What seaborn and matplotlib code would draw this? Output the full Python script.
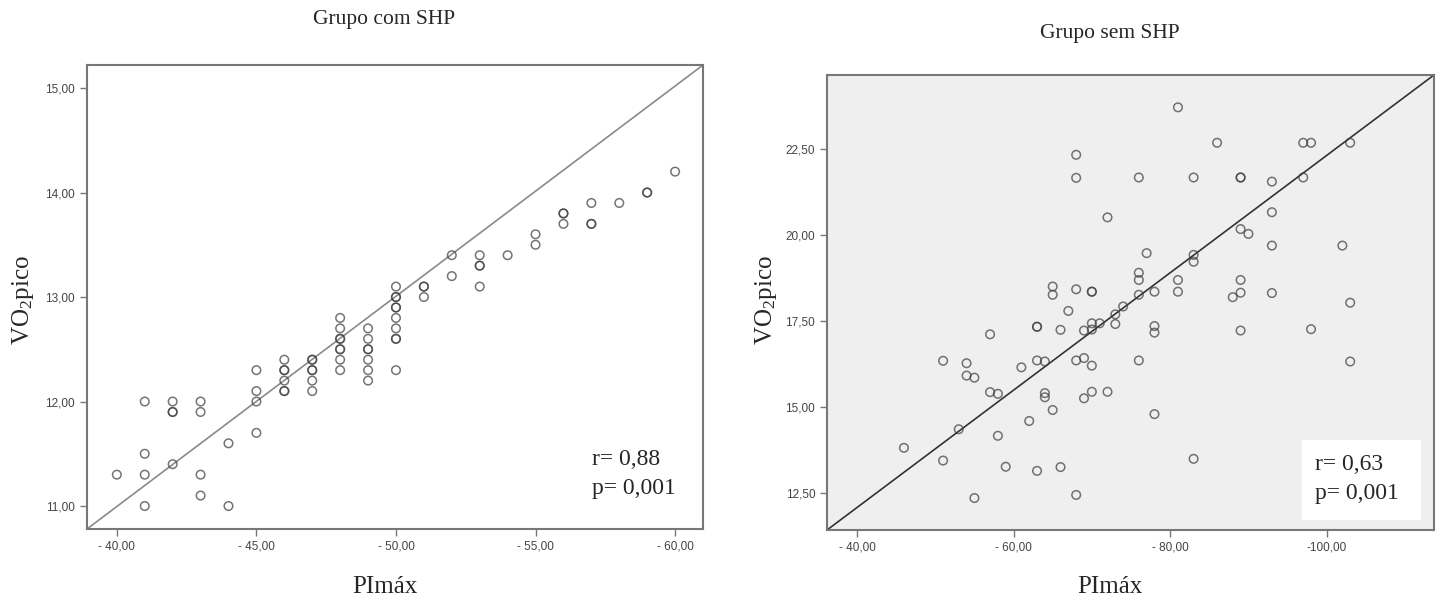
import matplotlib
matplotlib.use("Agg")
import matplotlib.pyplot as plt
import seaborn as sns
import pandas as pd
from matplotlib.patches import Rectangle

# Grupo com SHP
com_pimax = [-40,
             -41, -41, -41, -41,
             -42, -42, -42, -42,
             -43, -43, -43, -43,
             -44, -44,
             -45, -45, -45, -45,
             -46, -46, -46, -46, -46, -46,
             -47, -47, -47, -47, -47, -47,
             -48, -48, -48, -48, -48, -48, -48, -48,
             -49, -49, -49, -49, -49, -49, -49,
             -50, -50, -50, -50, -50, -50, -50, -50, -50, -50,
             -51, -51, -51,
             -52, -52,
             -53, -53, -53, -53,
             -54,
             -55, -55,
             -56, -56, -56,
             -57, -57, -57,
             -58,
             -59, -59,
             -60]
com_vo2 = [11.3,
           12.0, 11.5, 11.3, 11.0,
           12.0, 11.9, 11.9, 11.4,
           12.0, 11.9, 11.3, 11.1,
           11.6, 11.0,
           12.3, 12.1, 12.0, 11.7,
           12.4, 12.3, 12.3, 12.2, 12.1, 12.1,
           12.4, 12.4, 12.3, 12.3, 12.2, 12.1,
           12.8, 12.7, 12.6, 12.6, 12.5, 12.5, 12.4, 12.3,
           12.7, 12.6, 12.5, 12.5, 12.4, 12.3, 12.2,
           13.1, 13.0, 13.0, 12.9, 12.9, 12.8, 12.7, 12.6, 12.6, 12.3,
           13.1, 13.1, 13.0,
           13.4, 13.2,
           13.4, 13.3, 13.3, 13.1,
           13.4,
           13.6, 13.5,
           13.8, 13.8, 13.7,
           13.9, 13.7, 13.7,
           13.9,
           14.0, 14.0,
           14.2]

# Grupo sem SHP
sem_pimax = [-68, -68, -72, -65, -65, -68, -70, -70, -67, -63, -63, -66, -57,
             -69, -70, -70, -71, -73, -73, -74, -51, -54, -54, -55, -61, -63,
             -64, -68, -69, -70, -57, -58, -64, -64, -65, -69, -70, -72, -53,
             -62, -58, -46, -51, -59, -63, -66, -55, -68,
             -81, -86, -97, -98, -103, -76, -83, -89, -89, -93, -97, -93,
             -89, -90, -93, -102, -77, -83, -83, -76, -76, -81, -81, -76,
             -78, -89, -89, -88, -93, -103, -78, -78, -89, -98, -76, -103,
             -78, -83]
sem_vo2 = [22.33, 21.66, 20.51, 18.50, 18.26, 18.42, 18.35, 18.35, 17.79,
           17.33, 17.33, 17.24, 17.11, 17.22, 17.43, 17.25, 17.43, 17.69,
           17.41, 17.92, 16.34, 16.27, 15.91, 15.85, 16.15, 16.35, 16.32,
           16.35, 16.42, 16.20, 15.43, 15.38, 15.40, 15.28, 14.91, 15.25,
           15.44, 15.44, 14.35, 14.59, 14.16, 13.81, 13.44, 13.26, 13.14,
           13.25, 12.35, 12.44,
           23.71, 22.68, 22.68, 22.68, 22.68, 21.67, 21.67, 21.67, 21.67,
           21.55, 21.67, 20.66, 20.17, 20.03, 19.69, 19.69, 19.47, 19.42,
           19.22, 18.90, 18.69, 18.69, 18.35, 18.26, 18.35, 18.69, 18.32,
           18.19, 18.31, 18.03, 17.35, 17.16, 17.22, 17.26, 16.35, 16.32,
           14.79, 13.49]

com_xticks = [-40, -45, -50, -55, -60]
com_xlabels = ["- 40,00", "- 45,00", "- 50,00", "- 55,00", "- 60,00"]
com_yticks = [11, 12, 13, 14, 15]
com_ylabels = ["11,00", "12,00", "13,00", "14,00", "15,00"]
sem_xticks = [-40, -60, -80, -100]
sem_xlabels = ["- 40,00", "- 60,00", "- 80,00", "-100,00"]
sem_yticks = [12.5, 15, 17.5, 20, 22.5]
sem_ylabels = ["12,50", "15,00", "17,50", "20,00", "22,50"]

sns.set_style("white")
plt.rcParams["font.family"] = ["Liberation Serif", "DejaVu Serif"]
plt.rcParams["mathtext.fontset"] = "custom"
plt.rcParams["mathtext.rm"] = "Liberation Serif"
plt.rcParams["mathtext.it"] = "Liberation Serif"

fig = plt.figure(figsize=(14.4, 6.01), dpi=100)
ax1 = fig.add_axes([0.0604, 0.1198, 0.4278, 0.772])
ax2 = fig.add_axes([0.5743, 0.1181, 0.4215, 0.7571])

df1 = pd.DataFrame({"PImax": com_pimax, "VO2": com_vo2})
df2 = pd.DataFrame({"PImax": sem_pimax, "VO2": sem_vo2})

for ax, df, bg, lc in [(ax1, df1, "white", "#8a8a8a"), (ax2, df2, "#efefef", "#333333")]:
    ax.set_facecolor(bg)
    sns.scatterplot(data=df, x="PImax", y="VO2", ax=ax, marker="o", s=38,
                    facecolor="none", edgecolor=(0.25, 0.25, 0.25, 0.72),
                    linewidth=1.1, zorder=3)
    ax.plot([0, 1], [0, 1], transform=ax.transAxes, color=lc, lw=1.2, zorder=2)
    for sp in ax.spines.values():
        sp.set_color("#777777")
        sp.set_linewidth(1.5)
    ax.tick_params(axis="both", direction="out", length=5, width=1,
                   color="#777777", labelcolor="#444444", labelsize=8.5,
                   left=True, bottom=True)
    ax.set_xlabel("")
    ax.set_ylabel("")

ax1.set_xlim(-38.93, -61.0)
ax1.set_ylim(10.78, 15.22)
ax1.set_xticks(com_xticks, com_xlabels, family="Liberation Sans")
ax1.set_yticks(com_yticks, com_ylabels, family="Liberation Sans")

ax2.set_xlim(-36.17, -113.7)
ax2.set_ylim(11.42, 24.65)
ax2.set_xticks(sem_xticks, sem_xlabels, family="Liberation Sans")
ax2.set_yticks(sem_yticks, sem_ylabels, family="Liberation Sans")

# titles and labels
fig.text(0.267, 0.967, "Grupo com SHP", ha="center", va="center", fontsize=15.5)
fig.text(0.771, 0.944, "Grupo sem SHP", ha="center", va="center", fontsize=15.5)
fig.text(0.267, 0.023, "PImáx", ha="center", va="center", fontsize=18)
fig.text(0.771, 0.023, "PImáx", ha="center", va="center", fontsize=18)
fig.text(0.016, 0.50, r"VO$_{\mathrm{2}}$pico", ha="center", va="center",
         rotation=90, fontsize=18)
fig.text(0.532, 0.50, r"VO$_{\mathrm{2}}$pico", ha="center", va="center",
         rotation=90, fontsize=18)

# statistics
ax1.text(0.820, 0.149, "r= 0,88", transform=ax1.transAxes, fontsize=17,
         ha="left", va="center")
ax1.text(0.820, 0.088, "p= 0,001", transform=ax1.transAxes, fontsize=17,
         ha="left", va="center")
ax2.add_patch(Rectangle((0.7825, 0.022), 0.196, 0.176, transform=ax2.transAxes,
                        facecolor="white", edgecolor="none", zorder=4))
ax2.text(0.804, 0.143, "r= 0,63", transform=ax2.transAxes, fontsize=17,
         ha="left", va="center", zorder=5)
ax2.text(0.804, 0.081, "p= 0,001", transform=ax2.transAxes, fontsize=17,
         ha="left", va="center", zorder=5)

fig.savefig("out.png", dpi=100)
